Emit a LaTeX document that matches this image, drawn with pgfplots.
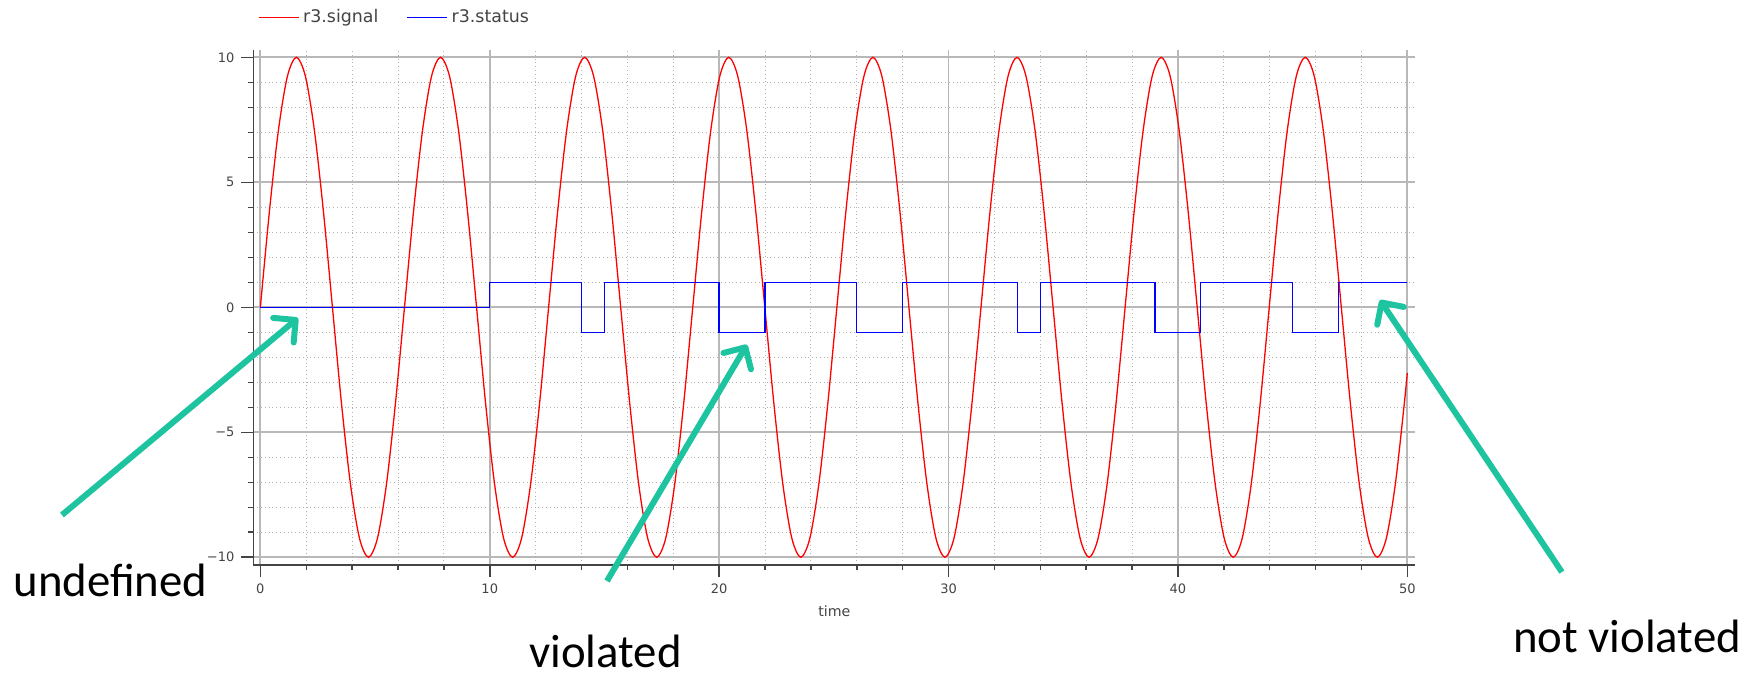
\documentclass[border=0pt]{standalone}
\usepackage{fontspec}
\usepackage{pgfplots}
\usepackage{pgfplotstable}
\pgfplotsset{compat=1.18}
\usetikzlibrary{arrows.meta}
\newfontfamily\dejavu{DejaVu Sans}
\newfontfamily\carlito{Carlito}
\definecolor{note}{RGB}{30,196,160}
\definecolor{axgray}{RGB}{68,68,68}

% r3.signal sampled every pi/8
\pgfplotstableread{
t y
0 0
0.393 3.827
0.785 7.071
1.178 9.239
1.571 10
1.963 9.239
2.356 7.071
2.749 3.827
3.142 0
3.534 -3.827
3.927 -7.071
4.320 -9.239
4.712 -10
5.105 -9.239
5.498 -7.071
5.890 -3.827
6.283 0
6.676 3.827
7.069 7.071
7.461 9.239
7.854 10
8.247 9.239
8.639 7.071
9.032 3.827
9.425 0
9.817 -3.827
10.210 -7.071
10.603 -9.239
10.996 -10
11.388 -9.239
11.781 -7.071
12.174 -3.827
12.566 0
12.959 3.827
13.352 7.071
13.744 9.239
14.137 10
14.530 9.239
14.923 7.071
15.315 3.827
15.708 0
16.101 -3.827
16.493 -7.071
16.886 -9.239
17.279 -10
17.671 -9.239
18.064 -7.071
18.457 -3.827
18.850 0
19.242 3.827
19.635 7.071
20.028 9.239
20.420 10
20.813 9.239
21.206 7.071
21.598 3.827
21.991 0
22.384 -3.827
22.777 -7.071
23.169 -9.239
23.562 -10
23.955 -9.239
24.347 -7.071
24.740 -3.827
25.133 0
25.525 3.827
25.918 7.071
26.311 9.239
26.704 10
27.096 9.239
27.489 7.071
27.882 3.827
28.274 0
28.667 -3.827
29.060 -7.071
29.452 -9.239
29.845 -10
30.238 -9.239
30.631 -7.071
31.023 -3.827
31.416 0
31.809 3.827
32.201 7.071
32.594 9.239
32.987 10
33.379 9.239
33.772 7.071
34.165 3.827
34.558 0
34.950 -3.827
35.343 -7.071
35.736 -9.239
36.128 -10
36.521 -9.239
36.914 -7.071
37.306 -3.827
37.699 0
38.092 3.827
38.485 7.071
38.877 9.239
39.270 10
39.663 9.239
40.055 7.071
40.448 3.827
40.841 0
41.233 -3.827
41.626 -7.071
42.019 -9.239
42.412 -10
42.804 -9.239
43.197 -7.071
43.590 -3.827
43.982 0
44.375 3.827
44.768 7.071
45.160 9.239
45.553 10
45.946 9.239
46.338 7.071
46.731 3.827
47.124 0
47.517 -3.827
47.909 -7.071
48.302 -9.239
48.695 -10
49.087 -9.239
49.480 -7.071
49.873 -3.827
50 -2.624
}\signal

% r3.status
\pgfplotstableread{
t s
0 0
10 1
14 -1
15 1
20 -1
22 1
26 -1
28 1
33 -1
34 1
39 -1
41 1
45 -1
47 1
50 1
}\status

\begin{document}
\begin{tikzpicture}
\useasboundingbox (-126.75pt,-56.98pt) rectangle (754.25pt,282.5pt);
\begin{axis}[
    scale only axis,
    width=580.9pt, height=257.6pt,
    xmin=-0.3, xmax=50.35,
    ymin=-10.31, ymax=10.3,
    axis x line=bottom, axis y line=left,
    axis line style={-, draw=axgray, line width=0.75pt},
    tick align=outside,
    major tick length=6pt, minor tick length=2.5pt,
    tick style={draw=axgray, line width=0.75pt},
    xtick={0,10,20,30,40,50},
    xticklabels={0,10,20,30,40,50},
    ytick={-10,-5,0,5,10},
    yticklabels={−10,−5,0,5,10},
    minor x tick num=4, minor y tick num=4,
    grid=both,
    major grid style={draw=black!28, line width=0.9pt},
    minor grid style={draw=black!30, line width=0.5pt, dash pattern=on 0.5pt off 1.4pt},
    tick label style={font=\dejavu\fontsize{6.5}{8}\selectfont, text=axgray},
    xlabel={time},
    xlabel style={at={(axis description cs:0.5,0)}, anchor=base, yshift=-26pt,
        font=\dejavu\fontsize{7.1}{8}\selectfont, text=axgray},
    clip=false,
    legend columns=2,
    legend style={at={(axis description cs:0,1)}, anchor=west, xshift=2pt, yshift=16.25pt,
        draw=none, fill=none, inner sep=0pt,
        font=\dejavu\fontsize{8.7}{10}\selectfont, text=axgray,
        /tikz/every even column/.append style={column sep=12pt}},
    legend image code/.code={\draw[#1] (0pt,0pt) -- (20pt,0pt);},
]
\addplot[red, line width=0.65pt, smooth] table[x=t, y=y] {\signal};
\addlegendentry{r3.signal}
\addplot[blue, line width=0.65pt, const plot] table[x=t, y=s] {\status};
\addlegendentry{r3.status}

% annotations
\draw[note, line width=3pt, -{Straight Barb[length=8pt, width=16pt, round]}]
    (axis cs:-8.65,-8.31) -- (axis cs:1.64,-0.43);
\draw[note, line width=3pt, -{Straight Barb[length=8pt, width=16pt, round]}]
    (axis cs:15.11,-10.95) -- (axis cs:21.21,-1.5);
\draw[note, line width=3pt, -{Straight Barb[length=8pt, width=16pt, round]}]
    (axis cs:56.74,-10.59) -- (axis cs:48.81,0.29);
\node[anchor=base west, inner sep=0pt, font=\carlito\fontsize{23.4}{28}\selectfont]
    at (axis cs:-10.78,-11.59) {undefined};
\node[anchor=base west, inner sep=0pt, font=\carlito\fontsize{23.4}{28}\selectfont]
    at (axis cs:11.71,-14.42) {violated};
\node[anchor=base west, inner sep=0pt, font=\carlito\fontsize{23.4}{28}\selectfont]
    at (axis cs:54.60,-13.83) {not violated};
\end{axis}
\end{tikzpicture}
\end{document}
